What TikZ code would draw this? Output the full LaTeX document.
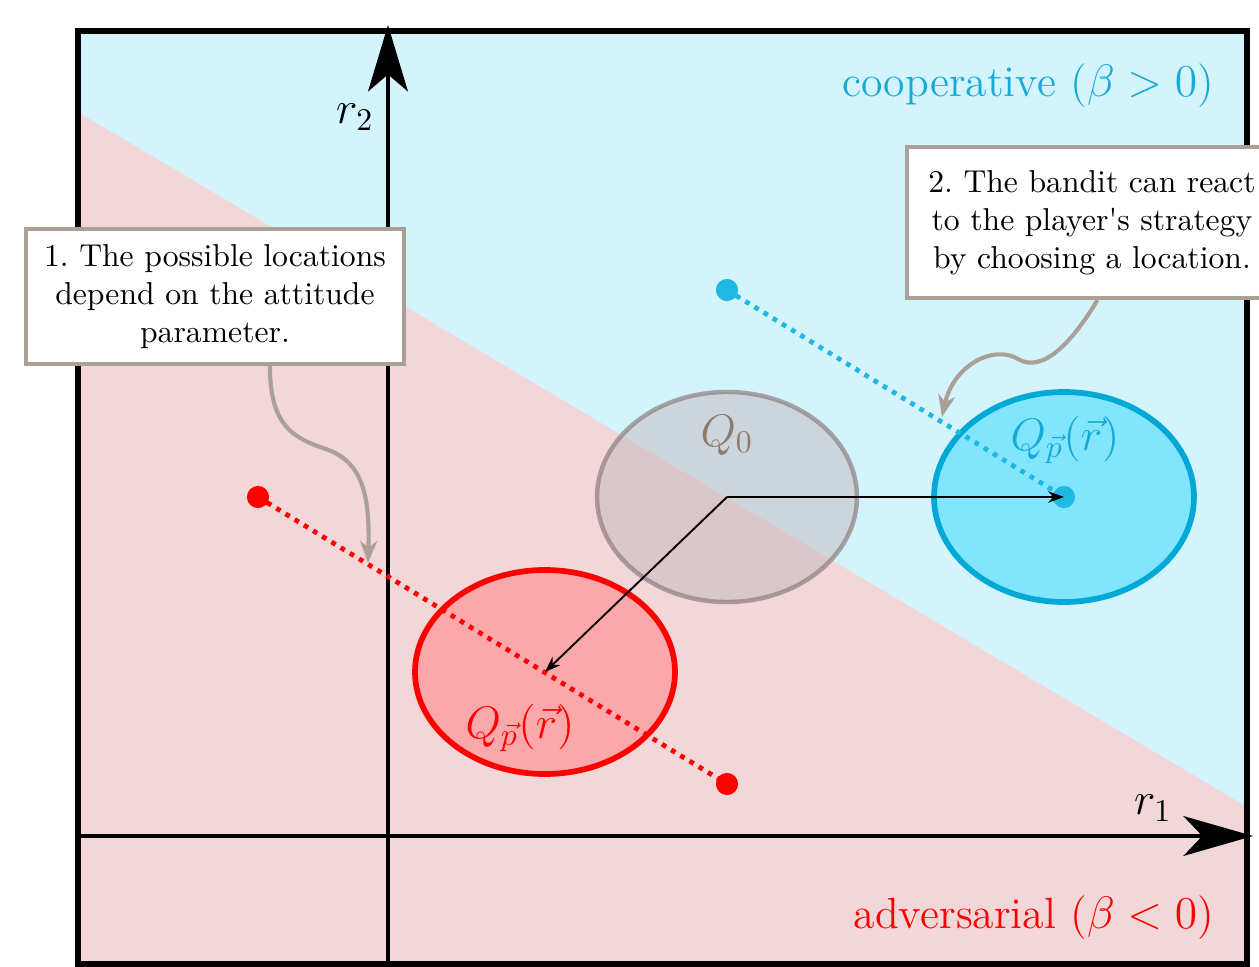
\documentclass[tikz,border=0pt]{standalone}
\usetikzlibrary{arrows.meta}
\definecolor{coopblue}{RGB}{23,170,214}
\definecolor{coopfill}{RGB}{128,229,253}
\definecolor{coopline}{RGB}{0,168,214}
\definecolor{coopbg}{RGB}{212,244,253}
\definecolor{dotblue}{RGB}{30,184,224}
\definecolor{advfill}{RGB}{252,168,170}
\definecolor{advbg}{RGB}{242,214,216}
\definecolor{taupe}{RGB}{170,160,150}
\definecolor{qzero}{RGB}{140,122,110}
\definecolor{qzerofill}{RGB}{198,184,187}
\definecolor{qzeroline}{RGB}{135,120,122}

\begin{document}
\frenchspacing
\begin{tikzpicture}[x=1.11cm, y=1.11cm,
    lbl/.style={font=\fontsize{13.8}{16}\selectfont},
    callout/.style={draw=taupe, line width=1.2pt, fill=white, align=center, inner sep=0pt},
    pointer/.style={draw=taupe, line width=1.3pt, -{Stealth[length=7pt,width=5.4pt]}},
    loc/.style={circle, inner sep=0pt, minimum size=7pt},
    locline/.style={line width=1.5pt, dash pattern=on 1.5pt off 1.9pt},
    move/.style={line width=0.6pt, -{Stealth[length=5pt,width=3.6pt]}}]
    \useasboundingbox (-3.88,-1.30) rectangle (8.71,8.36);
    \clip (-3.88,-1.30) rectangle (8.71,8.36);

    % Regions
    \fill[coopbg] (-3.10,-1.28) rectangle (8.59,8.05);
    \fill[advbg] (-3.10,-1.28) -- (-3.10,7.24) -- (8.59,0.29) -- (8.59,-1.28) -- cycle;
    \draw[line width=1.6pt] (-3.10,-1.28) rectangle (8.59,8.05);

    % Axes
    \draw[line width=1.1pt, -{Stealth[length=21pt,width=12.6pt,inset=5.4pt]}] (0,-1.28) -- (0,8.11);
    \draw[line width=1.1pt, -{Stealth[length=22pt,width=12.6pt,inset=6pt]}] (-3.10,0) -- (8.65,0);
    \node[lbl] (rtwo) at (-0.33,7.19) {$r_2$};
    \node[lbl] (rone) at (7.65,0.28) {$r_1$};

    % Sets
    \coordinate (qzc) at (3.39,3.39);
    \coordinate (coopc) at (6.76,3.39);
    \coordinate (advc) at (1.57,1.64);
    \draw[qzeroline, draw opacity=0.65, fill=qzerofill, fill opacity=0.5, line width=1.4pt]
        (qzc) ellipse [x radius=1.30, y radius=1.05];
    \draw[coopline, fill=coopfill, line width=1.8pt] (coopc) ellipse [x radius=1.30, y radius=1.05];
    \draw[red, fill=advfill, line width=1.8pt] (advc) ellipse [x radius=1.30, y radius=1.02];

    % Possible locations
    \node[loc, fill=red] (advhi) at (-1.30,3.39) {};
    \node[loc, fill=red] (advlo) at (3.39,0.52) {};
    \node[loc, fill=dotblue] (coophi) at (3.39,5.46) {};
    \node[loc, fill=dotblue] (coopdot) at (coopc) {};
    \draw[locline, red] (advhi.center) -- (advlo.center);
    \draw[locline, dotblue] (coophi.center) -- (coopdot.center);

    % Shifts
    \draw[move] (qzc) -- (coopdot.center);
    \draw[move] (qzc) -- (advc);

    % Labels
    \node[lbl, qzero] (qzlabel) at (3.39,4.01) {$Q_0$};
    \node[lbl, coopblue] (cooplabel) at (6.77,3.96) {$Q_{\vec{p}}(\vec{r})$};
    \node[lbl, red] (advlabel) at (1.32,1.08) {$Q_{\vec{p}}(\vec{r})$};
    \node[lbl, coopblue, anchor=base east] (cooptext) at (8.37,7.39) {cooperative ($\beta > 0$)};
    \node[lbl, red, anchor=base east] (advtext) at (8.37,-0.92) {adversarial ($\beta < 0$)};

    % Notes
    \node[callout, minimum width=4.20cm, minimum height=1.50cm] (noteone) at (-1.73,5.395)
        {1. The possible locations\\depend on the attitude\\parameter.};
    \node[callout, minimum width=4.11cm, minimum height=1.68cm] (notetwo) at (7.04,6.135)
        {2. The bandit can react\\to the player\textquotesingle s strategy\\by choosing a location.};
    \coordinate (onetip) at (-0.20,2.73);
    \coordinate (twotip) at (5.54,4.19);
    \draw[pointer] ([xshift=0.61cm]noteone.south) .. controls (-1.18,4.1) and (-0.95,3.98) .. (-0.62,3.87)
        .. controls (-0.25,3.74) and (-0.18,3.4) .. (onetip);
    \draw[pointer] ([xshift=0.06cm]notetwo.south) .. controls (6.85,4.95) and (6.55,4.62) .. (6.30,4.77)
        .. controls (6.05,4.92) and (5.65,4.70) .. (twotip);
\end{tikzpicture}
\end{document}
